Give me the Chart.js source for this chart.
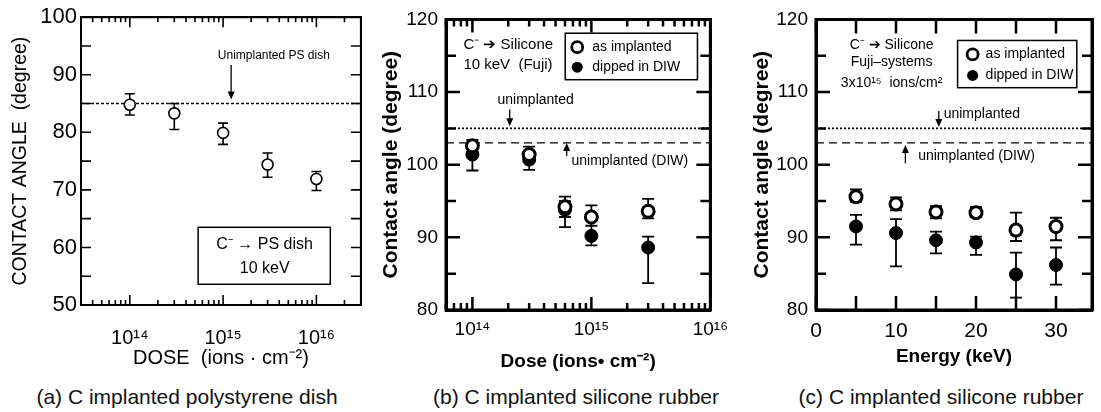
<!DOCTYPE html>
<html lang="en">
<head>
<meta charset="UTF-8">
<title>Contact angle of C implanted samples</title>
<script src="https://cdn.jsdelivr.net/npm/chart.js"></script>
<style>
  body { margin: 0; background: #fff; width: 1101px; height: 412px; position: relative; overflow: hidden; font-family: "Liberation Sans", Arial, sans-serif; }
  .panel { position: absolute; top: 0; }
  .caption { position: absolute; top: 385px; width: 400px; font-size: 21px; color: #111; text-align: center; white-space: nowrap; }
</style>
</head>
<body>
  <canvas id="chartA" class="panel" style="left:0px" width="368" height="380"></canvas>
  <canvas id="chartB" class="panel" style="left:372px" width="364" height="380"></canvas>
  <canvas id="chartC" class="panel" style="left:740px" width="361" height="380"></canvas>
  <div class="caption" style="left:-13px">(a) C implanted polystyrene dish</div>
  <div class="caption" style="left:376px">(b) C implanted silicone rubber</div>
  <div class="caption" style="left:741px">(c) C implanted silicone rubber</div>

<script>
const FONT = '"Liberation Sans", Arial, sans-serif';

// (a) C- -> PS dish, 10 keV
const doseA = [1e14, 3e14, 1e15, 3e15, 1e16];
const angleA = [84.8, 83.3, 79.9, 74.4, 71.9];
const angleALo = [83.0, 80.5, 77.9, 72.2, 69.9];
const angleAHi = [86.7, 85.0, 81.6, 76.4, 73.2];
const refA = 85;

// (b) C- -> silicone, 10 keV (Fuji)
const doseB = [1e14, 3e14, 6e14, 1e15, 3e15];
const asImplB = [102.6, 101.4, 94.2, 92.8, 93.6];
const asImplBLo = [101.8, 100.5, 92.8, 91.6, 92.6];
const asImplBHi = [103.4, 102.5, 95.6, 94.4, 95.3];
const dippedB = [101.4, 100.7, 93.8, 90.2, 88.6];
const dippedBLo = [99.2, 99.3, 91.4, 88.9, 83.7];
const dippedBHi = [102.6, 101.8, 95.0, 91.6, 90.1];

// (c) C- -> silicone, 3x10^15 ions/cm2
const energyC = [5, 10, 15, 20, 25, 30];
const asImplC = [95.6, 94.6, 93.5, 93.4, 91.0, 91.5];
const asImplCLo = [94.9, 93.7, 92.6, 92.8, 89.5, 89.6];
const asImplCHi = [96.6, 95.5, 94.3, 94.2, 93.4, 92.7];
const dippedC = [91.5, 90.6, 89.6, 89.3, 84.9, 86.2];
const dippedCLo = [89.0, 86.0, 87.8, 87.6, 81.7, 83.5];
const dippedCHi = [93.1, 92.5, 90.8, 90.1, 87.9, 88.6];

const refSilicone = 105;
const refSiliconeDIW = 103;

// tick labels
const doseTicks = [1e14, 1e15, 1e16];
const doseTickLabels = ['10\u00b9\u2074', '10\u00b9\u2075', '10\u00b9\u2076'];
const energyTicks = [0, 10, 20, 30];

const toPts = (xs, ys) => xs.map((x, i) => ({ x, y: ys[i] }));
const hline = (x0, x1, y) => [{ x: x0, y }, { x: x1, y }];

// tick marks for a log axis, minor ones at 2..9
function logTickMarks(min, max, major, minor) {
  const out = [];
  for (let e = Math.floor(Math.log10(min)); e <= Math.ceil(Math.log10(max)); e++) {
    for (let m = 1; m < 10; m++) {
      const v = m * Math.pow(10, e);
      if (v >= min && v <= max) out.push([v, m === 1 ? major : minor]);
    }
  }
  return out;
}
function linTickMarks(min, max, step, majorEvery, major, minor) {
  const out = [];
  for (let v = min; v <= max + 1e-9; v += step) {
    out.push([v, Math.abs(v / majorEvery - Math.round(v / majorEvery)) < 1e-6 ? major : minor]);
  }
  return out;
}

function drawErrorBars(chart, sets, cap, width) {
  const { ctx, scales: { x, y } } = chart;
  ctx.save();
  ctx.setLineDash([]);
  ctx.strokeStyle = '#000';
  ctx.lineWidth = width;
  ctx.beginPath();
  sets.forEach(s => {
    s.xs.forEach((xv, i) => {
      const px = x.getPixelForValue(xv);
      const lo = y.getPixelForValue(s.lo[i]);
      const hi = y.getPixelForValue(s.hi[i]);
      ctx.moveTo(px, lo); ctx.lineTo(px, hi);
      ctx.moveTo(px - cap, lo); ctx.lineTo(px + cap, lo);
      ctx.moveTo(px - cap, hi); ctx.lineTo(px + cap, hi);
    });
  });
  ctx.stroke();
  ctx.restore();
}

// frame with inward ticks on all four sides
function drawFrame(chart, f) {
  const { ctx, chartArea: a, scales: { x, y } } = chart;
  ctx.save();
  ctx.setLineDash([]);
  ctx.globalAlpha = 1;
  ctx.strokeStyle = '#000';
  ctx.lineWidth = f.tickWidth;
  ctx.beginPath();
  f.xMarks.forEach(([v, len]) => {
    const p = x.getPixelForValue(v);
    ctx.moveTo(p, a.bottom); ctx.lineTo(p, a.bottom - len);
    ctx.moveTo(p, a.top); ctx.lineTo(p, a.top + len);
  });
  f.yMarks.forEach(([v, len]) => {
    const p = y.getPixelForValue(v);
    ctx.moveTo(a.left, p); ctx.lineTo(a.left + len, p);
    ctx.moveTo(a.right, p); ctx.lineTo(a.right - len, p);
  });
  ctx.stroke();
  ctx.lineWidth = f.frameWidth;
  ctx.beginPath();
  ctx.rect(a.left, a.top, a.right - a.left, a.bottom - a.top);
  ctx.stroke();
  ctx.restore();
}

// text notes, arrows, boxes and legend inside the plot
function drawNotes(chart, items) {
  const { ctx, scales: { x, y } } = chart;
  ctx.save();
  ctx.setLineDash([]);
  ctx.fillStyle = '#000';
  ctx.strokeStyle = '#000';
  ctx.textBaseline = 'middle';
  items.forEach(it => {
    if (it.kind === 'text') {
      ctx.font = `${it.weight || 'normal'} ${it.size}px ${FONT}`;
      ctx.textAlign = it.align || 'left';
      ctx.fillText(it.text, x.getPixelForValue(it.x), y.getPixelForValue(it.y));
    } else if (it.kind === 'arrow') {
      const px = x.getPixelForValue(it.x);
      const p0 = y.getPixelForValue(it.from), p1 = y.getPixelForValue(it.to);
      const dir = p1 > p0 ? 1 : -1;
      ctx.lineWidth = 1.3;
      ctx.beginPath(); ctx.moveTo(px, p0); ctx.lineTo(px, p1 - dir * 6); ctx.stroke();
      ctx.beginPath();
      ctx.moveTo(px, p1); ctx.lineTo(px - 3.5, p1 - dir * 8); ctx.lineTo(px + 3.5, p1 - dir * 8);
      ctx.closePath(); ctx.fill();
    } else if (it.kind === 'box') {
      const x0 = x.getPixelForValue(it.x0), x1 = x.getPixelForValue(it.x1);
      const y0 = y.getPixelForValue(it.y0), y1 = y.getPixelForValue(it.y1);
      ctx.fillStyle = '#fff';
      ctx.fillRect(x0, y0, x1 - x0, y1 - y0);
      ctx.fillStyle = '#000';
      ctx.lineWidth = it.lw || 1.5;
      ctx.strokeRect(x0, y0, x1 - x0, y1 - y0);
      (it.entries || []).forEach(e => {
        const cy = y0 + e.dy;
        ctx.beginPath();
        ctx.arc(x0 + it.symX, cy, 5.5, 0, Math.PI * 2);
        if (e.filled) { ctx.fill(); } else { ctx.lineWidth = 2.8; ctx.stroke(); }
        ctx.font = `${it.size}px ${FONT}`;
        ctx.textAlign = 'left';
        ctx.fillText(e.label, x0 + it.textX, cy);
      });
    }
  });
  ctx.restore();
}

// one plugin per panel: error bars under the points, frame and notes on top
function decor(id, cfg) {
  return {
    id,
    beforeDatasetsDraw(chart) {
      try { drawErrorBars(chart, cfg.bars, cfg.cap, cfg.barWidth); } catch (e) { console.error(e); }
    },
    afterDraw(chart) {
      try { drawFrame(chart, cfg.frame); } catch (e) { console.error(e); }
      try { drawNotes(chart, cfg.notes); } catch (e) { console.error(e); }
    }
  };
}

function axisTitle(text, size, weight, pad) {
  return { display: true, text, color: '#000', font: { family: FONT, size, weight }, padding: pad };
}
function hidden() { return { display: false, drawTicks: false }; }
// bare axis on the top / right side, only its border line is shown
function edgeAxis(type, min, max, position, width) {
  return {
    type, min, max, position, display: true,
    grid: hidden(), ticks: { display: false },
    border: { display: true, color: '#000', width },
    afterFit: s => { if (s.isHorizontal()) s.height = 0; else s.width = 0; }
  };
}

// ---------- (a) ----------
const xMinA = 3e13, xMaxA = 3e16;
const chartA = new Chart(document.getElementById('chartA'), {
  type: 'scatter',
  data: {
    datasets: [
      { data: toPts(doseA, angleA), pointRadius: 5.5, pointBackgroundColor: '#fff', pointBorderColor: '#000', pointBorderWidth: 1.6, order: 0 },
      { type: 'line', data: hline(xMinA, xMaxA, refA), borderColor: '#000', borderWidth: 1.4, borderDash: [3, 2], pointRadius: 0, order: 2 }
    ]
  },
  options: {
    responsive: false, animation: false,
    layout: { padding: { top: 17, right: 5, left: 0, bottom: 0 } },
    plugins: { legend: { display: false }, tooltip: { enabled: false } },
    scales: {
      x: {
        type: 'logarithmic', min: xMinA, max: xMaxA,
        grid: hidden(), border: { display: true, color: '#000', width: 2 },
        afterBuildTicks: s => { s.ticks = doseTicks.map(v => ({ value: v })); },
        afterFit: s => { s.height = 75; },
        ticks: { autoSkip: false, maxRotation: 0, padding: 21, color: '#000', font: { family: FONT, size: 20 },
                 callback: v => doseTickLabels[doseTicks.indexOf(v)] },
        title: axisTitle('DOSE  (ions \u00b7 cm\u207b\u00b2)', 20, 'normal', { top: 0, bottom: 10 })
      },
      y: {
        min: 50, max: 100,
        grid: hidden(), border: { display: true, color: '#000', width: 2 },
        afterFit: s => { s.width = 81; },
        ticks: { stepSize: 10, padding: 4, color: '#000', font: { family: FONT, size: 22 } },
        title: axisTitle('CONTACT ANGLE  (degree)', 19.5, 'normal', { top: 9, bottom: 0 })
      },
      x2: edgeAxis('logarithmic', xMinA, xMaxA, 'top', 2),
      y2: edgeAxis('linear', 50, 100, 'right', 2)
    }
  },
  plugins: [decor('decorA', {
    bars: [{ xs: doseA, lo: angleALo, hi: angleAHi }], cap: 5, barWidth: 1.6,
    frame: { xMarks: logTickMarks(xMinA, xMaxA, 10, 5), yMarks: linTickMarks(50, 100, 5, 5, 10, 10), tickWidth: 1.6, frameWidth: 2 },
    notes: [
      { kind: 'text', text: 'Unimplanted PS dish', x: 3.5e15, y: 93.4, size: 12, align: 'center' },
      { kind: 'arrow', x: 1.22e15, from: 91.7, to: 85.7 },
      { kind: 'box', x0: 5.4e14, x1: 1.41e16, y0: 63.5, y1: 53.6, lw: 1.5 },
      { kind: 'text', text: 'C\u207b \u2192 PS dish', x: 2.79e15, y: 60.5, size: 16, align: 'center' },
      { kind: 'text', text: '10 keV', x: 2.79e15, y: 56.4, size: 16, align: 'center' }
    ]
  })]
});

// ---------- (b) ----------
const xMinB = 6e13, xMaxB = 1e16;
const chartB = new Chart(document.getElementById('chartB'), {
  type: 'scatter',
  data: {
    datasets: [
      { data: toPts(doseB, asImplB), pointRadius: 6, pointBackgroundColor: '#fff', pointBorderColor: '#000', pointBorderWidth: 3, order: 0 },
      { data: toPts(doseB, dippedB), pointRadius: 6.5, pointBackgroundColor: '#000', pointBorderColor: '#000', pointBorderWidth: 1, order: 1 },
      { type: 'line', data: hline(xMinB, xMaxB, refSilicone), borderColor: '#000', borderWidth: 1.8, borderDash: [2, 2], pointRadius: 0, order: 3 },
      { type: 'line', data: hline(xMinB, xMaxB, refSiliconeDIW), borderColor: '#000', borderWidth: 1.4, borderDash: [8, 5], pointRadius: 0, order: 3 }
    ]
  },
  options: {
    responsive: false, animation: false,
    layout: { padding: { top: 17, right: 4, left: 0, bottom: 0 } },
    plugins: { legend: { display: false }, tooltip: { enabled: false } },
    scales: {
      x: {
        type: 'logarithmic', min: xMinB, max: xMaxB,
        grid: hidden(), border: { display: true, color: '#000', width: 3 },
        afterBuildTicks: s => { s.ticks = doseTicks.map(v => ({ value: v })); },
        afterFit: s => { s.height = 70; },
        ticks: { autoSkip: false, maxRotation: 0, padding: 8, color: '#000', font: { family: FONT, size: 19 },
                 callback: v => doseTickLabels[doseTicks.indexOf(v)] },
        title: axisTitle('Dose (ions\u2022 cm\u207b\u00b2)', 19, 'bold', { top: 0, bottom: 7 })
      },
      y: {
        min: 80, max: 120,
        grid: hidden(), border: { display: true, color: '#000', width: 3 },
        afterFit: s => { s.width = 74; },
        ticks: { stepSize: 10, padding: 8, color: '#000', font: { family: FONT, size: 19 } },
        title: axisTitle('Contact angle (degree)', 21, 'bold', { top: 7, bottom: 0 })
      },
      x2: edgeAxis('logarithmic', xMinB, xMaxB, 'top', 3),
      y2: edgeAxis('linear', 80, 120, 'right', 3)
    }
  },
  plugins: [decor('decorB', {
    bars: [{ xs: doseB, lo: asImplBLo, hi: asImplBHi }, { xs: doseB, lo: dippedBLo, hi: dippedBHi }], cap: 6, barWidth: 1.8,
    frame: { xMarks: logTickMarks(xMinB, xMaxB, 13, 7), yMarks: linTickMarks(80, 120, 5, 10, 14, 10), tickWidth: 2.5, frameWidth: 3 },
    notes: [
      { kind: 'text', text: 'C\u207b \u2794 Silicone', x: 8.4e13, y: 116.5, size: 15 },
      { kind: 'text', text: '10 keV  (Fuji)', x: 8.4e13, y: 113.7, size: 15 },
      { kind: 'box', x0: 6.03e14, x1: 7.79e15, y0: 118.1, y1: 111.7, lw: 1.5, symX: 12, textX: 27, size: 14,
        entries: [{ label: 'as implanted', filled: false, dy: 14 }, { label: 'dipped in DIW', filled: true, dy: 34 }] },
      { kind: 'text', text: 'unimplanted', x: 3.4e14, y: 108.9, size: 14, align: 'center' },
      { kind: 'arrow', x: 2.06e14, from: 107.6, to: 105.3 },
      { kind: 'arrow', x: 6.2e14, from: 101.2, to: 103.0 },
      { kind: 'text', text: 'unimplanted (DIW)', x: 6.8e14, y: 100.5, size: 14 }
    ]
  })]
});

// ---------- (c) ----------
const xMinC = 0, xMaxC = 34.5;
const chartC = new Chart(document.getElementById('chartC'), {
  type: 'scatter',
  data: {
    datasets: [
      { data: toPts(energyC, asImplC), pointRadius: 6, pointBackgroundColor: '#fff', pointBorderColor: '#000', pointBorderWidth: 3, order: 0 },
      { data: toPts(energyC, dippedC), pointRadius: 6.5, pointBackgroundColor: '#000', pointBorderColor: '#000', pointBorderWidth: 1, order: 1 },
      { type: 'line', data: hline(xMinC, xMaxC, refSilicone), borderColor: '#000', borderWidth: 1.8, borderDash: [2, 2], pointRadius: 0, order: 3 },
      { type: 'line', data: hline(xMinC, xMaxC, refSiliconeDIW), borderColor: '#000', borderWidth: 1.4, borderDash: [8, 5], pointRadius: 0, order: 3 }
    ]
  },
  options: {
    responsive: false, animation: false,
    layout: { padding: { top: 17, right: 4, left: 0, bottom: 0 } },
    plugins: { legend: { display: false }, tooltip: { enabled: false } },
    scales: {
      x: {
        type: 'linear', min: xMinC, max: xMaxC,
        grid: hidden(), border: { display: true, color: '#000', width: 3 },
        afterBuildTicks: s => { s.ticks = energyTicks.map(v => ({ value: v })); },
        afterFit: s => { s.height = 70; },
        ticks: { autoSkip: false, maxRotation: 0, padding: 9, color: '#000', font: { family: FONT, size: 21 } },
        title: axisTitle('Energy (keV)', 19, 'bold', { top: 0, bottom: 12 })
      },
      y: {
        min: 80, max: 120,
        grid: hidden(), border: { display: true, color: '#000', width: 3 },
        afterFit: s => { s.width = 76; },
        ticks: { stepSize: 10, padding: 8, color: '#000', font: { family: FONT, size: 19 } },
        title: axisTitle('Contact angle (degree)', 21, 'bold', { top: 10, bottom: 0 })
      },
      x2: edgeAxis('linear', xMinC, xMaxC, 'top', 3),
      y2: edgeAxis('linear', 80, 120, 'right', 3)
    }
  },
  plugins: [decor('decorC', {
    bars: [{ xs: energyC, lo: asImplCLo, hi: asImplCHi }, { xs: energyC, lo: dippedCLo, hi: dippedCHi }], cap: 6, barWidth: 1.8,
    frame: { xMarks: linTickMarks(0, 34.5, 5, 5, 14, 14), yMarks: linTickMarks(80, 120, 5, 10, 14, 10), tickWidth: 2.5, frameWidth: 3 },
    notes: [
      { kind: 'text', text: 'C\u207b \u2794 Silicone', x: 9.45, y: 116.5, size: 14, align: 'center' },
      { kind: 'text', text: 'Fuji\u2013systems', x: 9.45, y: 114.1, size: 14, align: 'center' },
      { kind: 'text', text: '3x10\u00b9\u2075  ions/cm\u00b2', x: 9.45, y: 111.2, size: 14, align: 'center' },
      { kind: 'box', x0: 17.7, x1: 32.6, y0: 117.1, y1: 110.6, lw: 1.5, symX: 15, textX: 28, size: 14,
        entries: [{ label: 'as implanted', filled: false, dy: 14 }, { label: 'dipped in DIW', filled: true, dy: 35 }] },
      { kind: 'arrow', x: 15.35, from: 107.4, to: 105.2 },
      { kind: 'text', text: 'unimplanted', x: 15.96, y: 107.0, size: 14 },
      { kind: 'arrow', x: 11.17, from: 100.2, to: 102.7 },
      { kind: 'text', text: 'unimplanted (DIW)', x: 12.77, y: 101.2, size: 14 }
    ]
  })]
});

// redraw once all three panels exist
[chartA, chartB, chartC].forEach(c => c.update('none'));
</script>
</body>
</html>
